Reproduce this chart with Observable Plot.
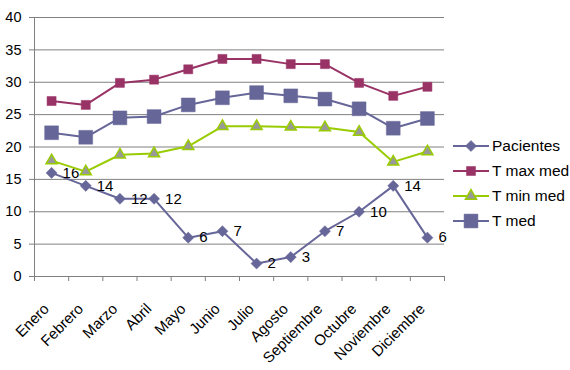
<!DOCTYPE html>
<html><head><meta charset="utf-8">
<script src="https://cdn.jsdelivr.net/npm/d3@7"></script>
<script src="https://cdn.jsdelivr.net/npm/@observablehq/plot@0.6"></script>
<style>
body{margin:0;background:#fff}
#chart{position:relative;width:570px;height:370px}
</style>
</head><body><div id="chart"></div>
<script>
const months = ["Enero","Febrero","Marzo","Abril","Mayo","Junio","Julio","Agosto","Septiembre","Octubre","Noviembre","Diciembre"];
const pacientes = [16,14,12,12,6,7,2,3,7,10,14,6];
const tMax = [27.1,26.5,29.9,30.4,32.0,33.6,33.6,32.8,32.8,29.9,27.9,29.3];
const tMin = [17.9,16.2,18.8,19.0,20.1,23.2,23.2,23.1,23.0,22.3,17.7,19.3];
const tMed = [22.2,21.5,24.5,24.7,26.5,27.6,28.4,27.9,27.4,25.9,22.9,24.4];
const seriesNames = ["Pacientes","T max med","T min med","T med"];
const yTicks = [0,5,10,15,20,25,30,35,40];

const font = "Arial, 'Liberation Sans', sans-serif";
const styles = [
  {name: seriesNames[0], values: pacientes, stroke: "#666699", fill: "#666699", mstroke: "#666699", symbol: "diamond2", r: 5},
  {name: seriesNames[1], values: tMax, stroke: "#993366", fill: "#993366", mstroke: "#993366", symbol: "square", r: 5.1},
  {name: seriesNames[2], values: tMin, stroke: "#99CC00", fill: "#999999", mstroke: "#99CC00", symbol: "triangle", r: 4.1},
  {name: seriesNames[3], values: tMed, stroke: "#666699", fill: "#666699", mstroke: "#666699", symbol: "square", r: 7.8}
];
const rows = s => s.values.map((v, i) => ({i, v, name: s.name}));

const marks = [
  Plot.gridY(yTicks, {stroke: "#808080", strokeOpacity: 1, strokeWidth: 1}),
  Plot.axisY(yTicks, {tickSize: 5, tickPadding: 8, stroke: "#808080", fontSize: 14.5, fill: "#000", label: null}),
  Plot.axisX(d3.range(months.length + 1).map(i => i - 0.5), {tickSize: 5, tickFormat: () => "", stroke: "#808080", label: null}),
  Plot.axisX(d3.range(months.length), {tickSize: 0, tickFormat: i => months[i], tickRotate: -45, fontSize: 15, fill: "#000", dy: 18, dx: -5, label: null}),
  Plot.ruleX([-0.5], {stroke: "#808080"}),
  Plot.ruleY([0], {stroke: "#808080"})
];
for (const s of styles) {
  marks.push(Plot.line(rows(s), {x: "i", y: "v", stroke: s.stroke, strokeWidth: 2}));
  marks.push(Plot.dot(rows(s), {x: "i", y: "v", symbol: () => s.symbol, r: s.r, fill: s.fill, stroke: s.mstroke, strokeWidth: s.symbol === "triangle" ? 1.5 : 0.5}));
  if (s.name === "Pacientes") {
    marks.push(Plot.text(rows(s), {x: "i", y: "v", text: d => String(d.v), dx: 11, textAnchor: "start", fontSize: 15, fill: "#000"}));
  }
}

const chart = Plot.plot({
  width: 570, height: 370,
  marginLeft: 34, marginRight: 126, marginTop: 17, marginBottom: 94,
  style: {fontFamily: font, background: "#fff", color: "#000", overflow: "visible"},
  x: {domain: [-0.5, months.length - 0.5], axis: null},
  y: {domain: [0, 40], axis: null},
  symbol: {type: "identity"},
  marks
});

// legend
const svg = d3.select(chart);
const lg = svg.append("g").attr("transform", "translate(453,146)").style("font-family", font);
styles.forEach((s, k) => {
  const g = lg.append("g").attr("transform", `translate(0,${k * 25})`);
  g.append("line").attr("x1", 0).attr("x2", 36).attr("stroke", s.stroke).attr("stroke-width", 2);
  const sym = {diamond2: d3.symbolDiamond2, square: d3.symbolSquare, triangle: d3.symbolTriangle}[s.symbol];
  g.append("path").attr("transform", "translate(18,0)")
    .attr("d", d3.symbol(sym, s.r * s.r * Math.PI)())
    .attr("fill", s.fill).attr("stroke", s.mstroke).attr("stroke-width", s.symbol === "triangle" ? 1.5 : 0.5);
  g.append("text").attr("x", 39).attr("dy", "0.35em").attr("text-anchor", "start")
    .attr("font-size", 15.5).attr("fill", "#000").text(s.name);
});
document.getElementById("chart").appendChild(chart);
</script>
</body></html>
